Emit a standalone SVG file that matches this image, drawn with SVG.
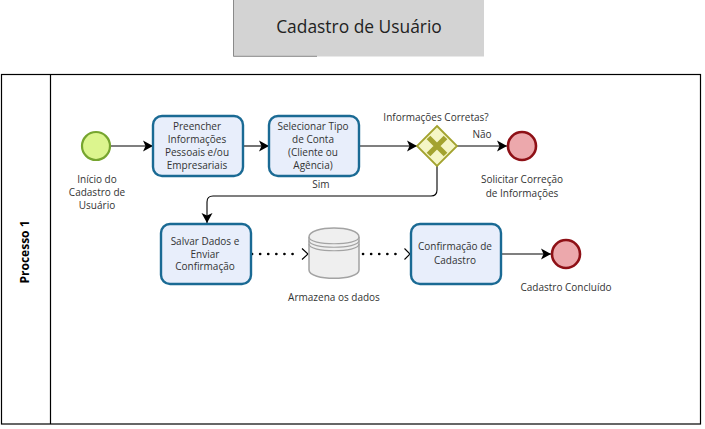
<svg xmlns="http://www.w3.org/2000/svg" width="705" height="429" viewBox="0 0 705 429">
<style>
text{font-family:"Open Sans","Noto Sans","Liberation Sans",sans-serif;font-size:10px;fill:#333;text-anchor:middle}
.task{fill:#e8eefb;stroke:#1a6a94;stroke-width:2.400}
.end{fill:#eca8ac;stroke:#8e1016;stroke-width:2.600}
.flow{fill:none;stroke:#000;stroke-width:1.100;marker-end:url(#arrow)}
.dot{fill:none;stroke:#000;stroke-width:2.600;stroke-dasharray:0.1 8;stroke-linecap:round}
.open{fill:none;stroke:#000;stroke-width:1.100}
</style>
<defs>
<marker id="arrow" markerUnits="userSpaceOnUse" markerWidth="12" markerHeight="12" refX="10" refY="6" orient="auto"><path d="M0 0.500L10 6L0 11.500L2.500 6Z" fill="#000"/></marker>
</defs>
<rect width="705" height="429" fill="#fff"/>
<g id="title">
<rect x="233" y="-1" width="251" height="57.500" fill="#d3d3d3"/>
<path d="M233.500 0V56.300H317" fill="none" stroke="#8a8a8a"/>
<text x="359" y="32.500" style="font-size:17.400px;fill:#222">Cadastro de Usuário</text>
</g>
<g id="pool">
<rect x="1.500" y="74.500" width="699" height="349.500" fill="#fff" stroke="#000" stroke-width="1.200"/>
<path d="M50.500 74.500V424" stroke="#000" stroke-width="1.200"/>
<text transform="translate(28.500 252) rotate(-90)" style="font-size:12px;font-weight:700;fill:#000">Processo 1</text>
</g>
<g id="connectors">
<path class="flow" d="M110 146H153"/>
<path class="flow" d="M243 146H269"/>
<path class="flow" d="M359 146H417"/>
<path class="flow" d="M457 146H507"/>
<path class="flow" d="M437 166V190Q437 196 431 196H213Q207 196 207 202V223"/>
<path class="flow" d="M501 254H551"/>
<path class="dot" d="M252 254H300"/>
<path class="open" d="M302 248.500L308 254L302 259.500"/>
<path class="dot" d="M363 254H403"/>
<path class="open" d="M404.500 248.500L410 254L404.500 259.500"/>
</g>
<g id="start">
<circle cx="96" cy="146" r="14" fill="#dcf58e" stroke="#76a52f" stroke-width="2.200"/>
<text x="97" y="183">Início do</text><text x="97" y="196">Cadastro de</text><text x="97" y="209">Usuário</text>
</g>
<g id="task1">
<rect class="task" x="153" y="116" width="90" height="60" rx="9"/>
<text x="197" y="130">Preencher</text><text x="197" y="143">Informações</text><text x="197" y="156">Pessoais e/ou</text><text x="197" y="169">Empresariais</text>
</g>
<g id="task2">
<rect class="task" x="269" y="116" width="90" height="60" rx="9"/>
<text x="313" y="130">Selecionar Tipo</text><text x="313" y="143">de Conta</text><text x="313" y="156">(Cliente ou</text><text x="313" y="169">Agência)</text>
<text x="321" y="188">Sim</text>
</g>
<g id="gateway">
<path d="M437 126L457 146L437 166L417 146Z" fill="#f5f6c6" stroke="#a3a32f" stroke-width="1.800"/>
<path d="M428.500 137.500L445.500 154.500M445.500 137.500L428.500 154.500" stroke="#a3a32f" stroke-width="5.200"/>
<text x="436" y="121">Informações Corretas?</text>
<text x="482" y="138">Não</text>
</g>
<g id="end1">
<circle class="end" cx="522" cy="146" r="14"/>
<text x="522" y="183">Solicitar Correção</text><text x="522" y="197">de Informações</text>
</g>
<g id="task3">
<rect class="task" x="161" y="224" width="90" height="60" rx="9"/>
<text x="205" y="244.500">Salvar Dados e</text><text x="205" y="257.500">Enviar</text><text x="205" y="270">Confirmação</text>
</g>
<g id="database">
<path d="M309 237C309 225 359 225 359 237V270C359 281 309 281 309 270Z" fill="#efefef" stroke="#a3a3a3" stroke-width="1.500"/>
<path d="M309 237C309 246 359 246 359 237M309 240.500C309 249.500 359 249.500 359 240.500M309 244C309 253 359 253 359 244" fill="none" stroke="#a3a3a3" stroke-width="1.200"/>
<text x="334" y="301">Armazena os dados</text>
</g>
<g id="task4">
<rect class="task" x="411" y="224" width="90" height="60" rx="9"/>
<text x="455" y="250">Confirmação de</text><text x="455" y="264">Cadastro</text>
</g>
<g id="end2">
<circle class="end" cx="566" cy="254" r="14"/>
<text x="566" y="291">Cadastro Concluído</text>
</g>
</svg>
